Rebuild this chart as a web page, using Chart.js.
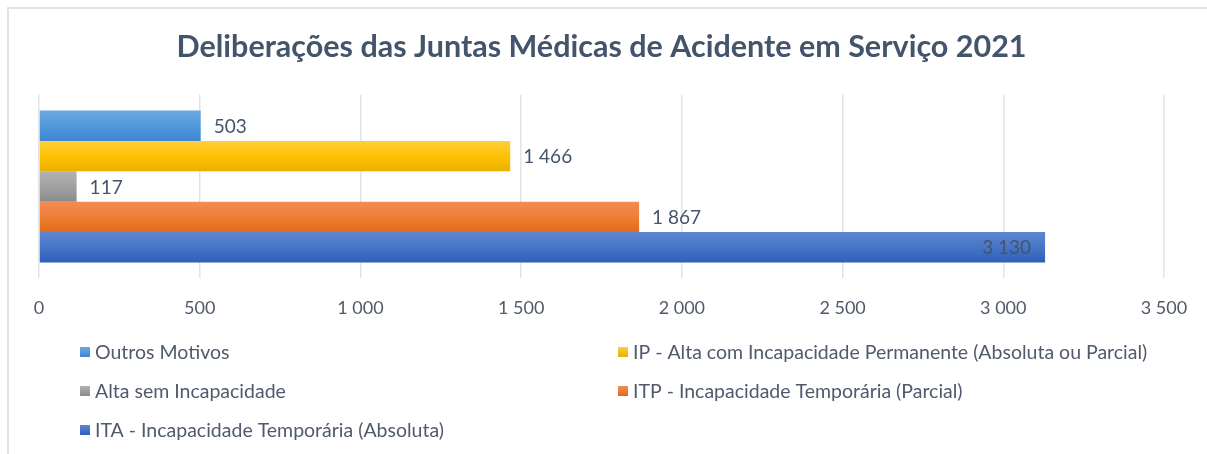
<!DOCTYPE html>
<html lang="pt">
<head>
    <meta charset="UTF-8">
    <title>Deliberações das Juntas Médicas de Acidente em Serviço 2021</title>
    <script src="https://cdn.jsdelivr.net/npm/chart.js"></script>
    <style>
        body {
            margin: 0;
            background: #ffffff;
            font-family: Lato, sans-serif;
        }

        #frame {
            position: absolute;
            left: 7px;
            top: 7px;
            width: 1200px;
            height: 447px;
            border-left: 2px solid #dfe4ea;
            border-top: 2px solid #dfe4ea;
        }

        canvas {
            position: absolute;
            left: 0;
            top: 0;
        }
    </style>
</head>
<body>
    <div id="frame"></div>
    <canvas id="barChart" width="1207" height="454"></canvas>

    <script>
        // data
        const seriesNames = [
            'Outros Motivos',
            'IP - Alta com Incapacidade Permanente (Absoluta ou Parcial)',
            'Alta sem Incapacidade',
            'ITP - Incapacidade Temporária (Parcial)',
            'ITA - Incapacidade Temporária (Absoluta)'
        ];
        const seriesValues = [503, 1466, 117, 1867, 3130];
        const xTicks = [0, 500, 1000, 1500, 2000, 2500, 3000, 3500];

        // top / bottom colours of each bar's gradient
        const topColors = ['#6ea8e0', '#ffcf3c', '#b2b2b2', '#f28d55', '#5d87d3'];
        const bottomColors = ['#3d86d2', '#e8b000', '#8a8a8a', '#e26a1b', '#2d5fbb'];
        const midColors = ['#4e96da', '#ffc000', '#a0a0a0', '#ed7d31', '#4472c4'];

        const fmt = v => String(v).replace(/\B(?=(\d{3})+(?!\d))/g, ' ');
        const textColor = '#505a6c';

        function barGradient(ctx) {
            const chart = ctx.chart;
            const el = chart.getDatasetMeta(ctx.datasetIndex).data[ctx.dataIndex];
            if (!el || el.y === undefined || !el.height) return midColors[ctx.datasetIndex];
            const top = el.y - el.height / 2;
            const g = chart.ctx.createLinearGradient(0, top, 0, top + el.height);
            g.addColorStop(0, topColors[ctx.datasetIndex]);
            g.addColorStop(0.55, midColors[ctx.datasetIndex]);
            g.addColorStop(1, bottomColors[ctx.datasetIndex]);
            return g;
        }

        // value labels next to (or inside) each bar
        const valueLabels = {
            id: 'valueLabels',
            afterDatasetsDraw(chart) {
                const c = chart.ctx;
                const maxVal = Math.max(...seriesValues);
                c.save();
                c.font = '19px Lato';
                c.fillStyle = '#44546a';
                c.textBaseline = 'middle';
                chart.data.datasets.forEach((ds, i) => {
                    const bar = chart.getDatasetMeta(i).data[0];
                    const v = ds.data[0];
                    if (v === maxVal) {
                        c.textAlign = 'right';
                        c.fillText(fmt(v), bar.x - 14, bar.y + 1);
                    } else {
                        c.textAlign = 'left';
                        c.fillText(fmt(v), bar.x + 13, bar.y + 1);
                    }
                });
                c.restore();
            }
        };

        // two-column legend under the axis
        const twoColLegend = {
            id: 'twoColLegend',
            afterDraw(chart) {
                const c = chart.ctx;
                c.save();
                c.font = '19.5px Lato';
                c.textBaseline = 'middle';
                c.textAlign = 'left';
                chart.data.datasets.forEach((ds, i) => {
                    const x = 80 + (i % 2) * 538;
                    const y = 352 + Math.floor(i / 2) * 39;
                    const g = c.createLinearGradient(0, y - 5, 0, y + 5);
                    g.addColorStop(0, topColors[i]);
                    g.addColorStop(1, bottomColors[i]);
                    c.fillStyle = g;
                    c.fillRect(x, y - 5, 10, 10);
                    c.fillStyle = textColor;
                    c.fillText(ds.label, x + 15, y + 1);
                });
                c.restore();
            }
        };

        const ctx = document.getElementById('barChart').getContext('2d');
        const barChart = new Chart(ctx, {
            type: 'bar',
            data: {
                labels: ['2021'],
                datasets: seriesNames.map((name, i) => ({
                    label: name,
                    data: [seriesValues[i]],
                    backgroundColor: barGradient,
                    borderWidth: 0,
                    categoryPercentage: 0.827,
                    barPercentage: 1
                }))
            },
            options: {
                indexAxis: 'y',
                responsive: false,
                animation: false,
                layout: {
                    padding: { left: 39, right: 43, top: 0, bottom: 116 }
                },
                plugins: {
                    legend: { display: false },
                    tooltip: { enabled: false },
                    title: {
                        display: true,
                        text: 'Deliberações das Juntas Médicas de Acidente em Serviço 2021',
                        color: '#44546a',
                        font: { family: 'Lato', size: 30.5, weight: 'bold' },
                        padding: { top: 29, bottom: 29 }
                    }
                },
                scales: {
                    x: {
                        min: 0,
                        max: 3500,
                        afterBuildTicks: axis => {
                            axis.ticks = xTicks.map(v => ({ value: v }));
                        },
                        grid: {
                            color: '#dfe3ea',
                            lineWidth: 1.5,
                            drawTicks: false
                        },
                        border: { display: false },
                        ticks: {
                            padding: 19,
                            color: textColor,
                            font: { family: 'Lato', size: 18 },
                            callback: v => fmt(v)
                        }
                    },
                    y: {
                        display: false
                    }
                }
            },
            plugins: [valueLabels, twoColLegend]
        });

        // second pass so the gradients can use the placed bar geometry
        barChart.update('none');
    </script>
</body>
</html>
